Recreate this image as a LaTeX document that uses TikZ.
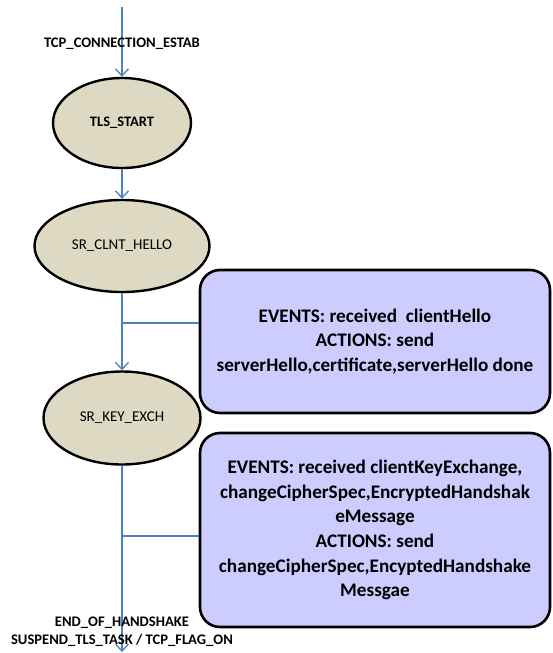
\documentclass[tikz,border=0pt]{standalone}
\usepackage{fontspec}
\setmainfont{Carlito}
\usetikzlibrary{shapes.geometric,arrows.meta,calc}
\definecolor{statefill}{HTML}{DDD9C3}
\definecolor{boxfill}{HTML}{CCCCFF}
\definecolor{flow}{HTML}{4F81BD}
\begin{document}
\begin{tikzpicture}[x=1pt,y=-1pt,
  state/.style={ellipse, draw=black, line width=2.4pt, fill=statefill, inner sep=0pt, font=\fontsize{15}{16}\selectfont},
  infobox/.style={rectangle, rounded corners=20pt, draw=black, line width=2.6pt, fill=boxfill, inner sep=0pt, align=center, font=\fontsize{19.2}{24.6}\selectfont\bfseries},
  flowline/.style={draw=flow, line width=1.8pt},
  flowarrow/.style={flowline, -{Straight Barb[length=7pt,width=13pt,line width=1.3pt]}},
  lbl/.style={font=\fontsize{14.6}{18}\selectfont\bfseries, align=center, inner sep=0pt}
]
\useasboundingbox (0,0) rectangle (552,653);
\coordinate (top) at (122,7);
\coordinate (bottom) at (122,652);
\node[state, minimum width=138pt, minimum height=90pt, font=\fontsize{14.5}{16}\selectfont\bfseries] (tls) at (122,123) {TLS\_START};
\node[state, minimum width=175pt, minimum height=92pt] (hello) at (122,246) {SR\_CLNT\_HELLO};
\node[state, minimum width=157pt, minimum height=93pt] (kex) at (122,418) {SR\_KEY\_EXCH};
\node[infobox, minimum width=350pt, minimum height=143pt] (box1) at (375,341.5) {EVENTS: received\ \ clientHello\\ACTIONS: send\\serverHello,certificate,serverHello done};
\node[infobox, minimum width=350pt, minimum height=194pt] (box2) at (375,530) {\raisebox{0pt}{}EVENTS: received clientKeyExchange,\\changeCipherSpec,EncryptedHandshak\\eMessage\\ACTIONS: send\\changeCipherSpec,EncyptedHandshake\\Messgae};
\coordinate (j1) at (122,323);
\coordinate (j2) at (122,536);
\draw[flowarrow] (top) -- (tls.north);
\draw[flowarrow] (tls.south) -- (hello.north);
\draw[flowarrow] (hello.south) -- (kex.north);
\draw[flowarrow] (kex.south) -- (bottom);
\draw[flowline] (j1) -- (j1 -| box1.west);
\draw[flowline] (j2) -- (j2 -| box2.west);
\node[lbl] (estab) at (122,44) {TCP\_CONNECTION\_ESTAB};
\node[lbl] (endhs) at (122,632) {END\_OF\_HANDSHAKE\\SUSPEND\_TLS\_TASK / TCP\_FLAG\_ON};
\end{tikzpicture}
\end{document}
